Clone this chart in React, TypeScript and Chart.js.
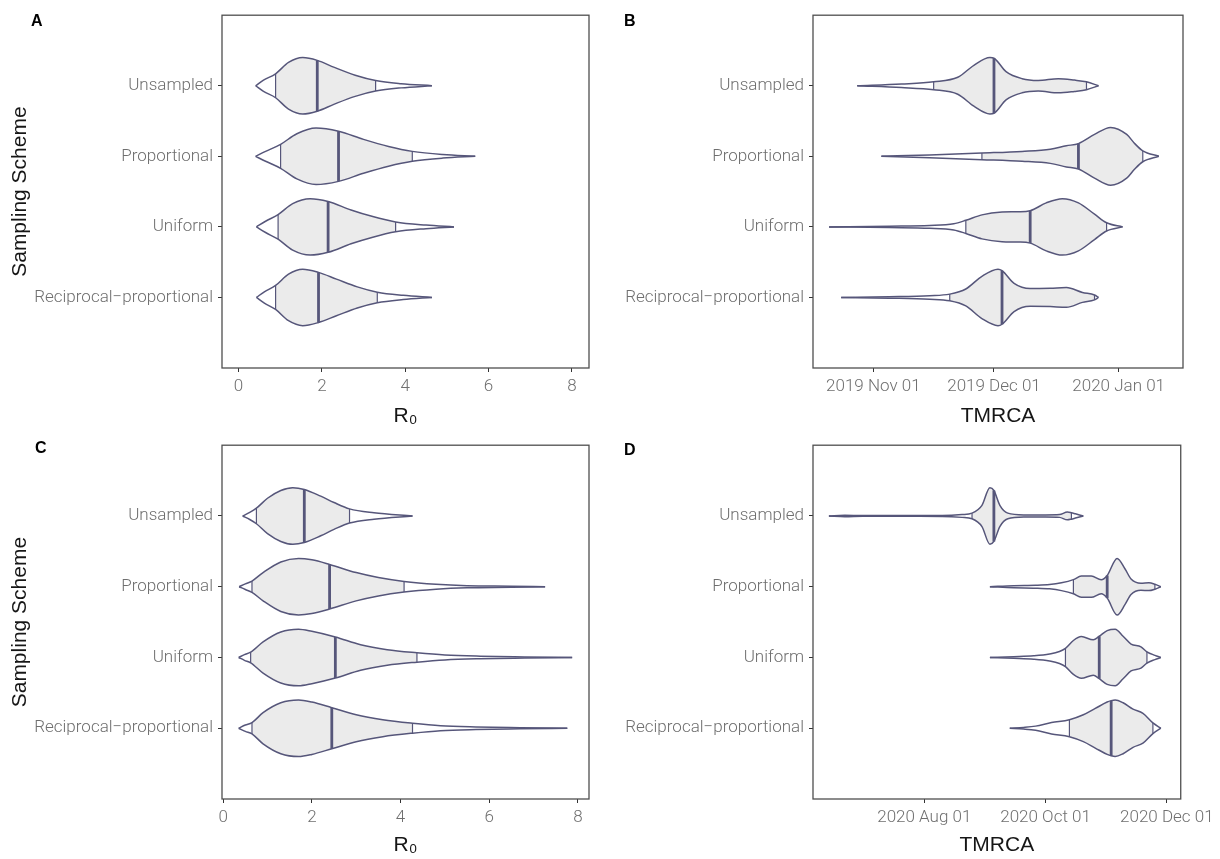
import { useEffect, useRef } from "react";
import { Chart, registerables } from "chart.js";

Chart.register(...registerables);

// Categories (top to bottom)
const schemes = ["Unsampled", "Proportional", "Uniform", "Reciprocal−proportional"];

type Pt = [number | string, number];

// ---------- Panel A: R0 ----------
const r0Ticks = [0, 2, 4, 6, 8];
const r0TickLabels = ["0", "2", "4", "6", "8"];
const aRange = [-0.396, 8.41];
const aUnsampled: Pt[] = [[0.41, 0], [0.6, 0.08], [0.89, 0.17], [1.2, 0.33], [1.54, 0.4], [1.89, 0.36], [2.3, 0.26], [2.8, 0.15], [3.29, 0.075], [3.9, 0.03], [4.64, 0]];
const aProportional: Pt[] = [[0.41, 0], [0.65, 0.07], [1.01, 0.17], [1.4, 0.32], [1.86, 0.4], [2.4, 0.355], [3.0, 0.24], [3.6, 0.14], [4.17, 0.07], [4.9, 0.025], [5.68, 0]];
const aUniform: Pt[] = [[0.43, 0], [0.65, 0.08], [0.95, 0.175], [1.3, 0.33], [1.72, 0.4], [2.15, 0.36], [2.7, 0.24], [3.2, 0.15], [3.77, 0.07], [4.5, 0.025], [5.17, 0]];
const aReciprocal: Pt[] = [[0.43, 0], [0.62, 0.08], [0.89, 0.17], [1.2, 0.33], [1.54, 0.4], [1.92, 0.355], [2.35, 0.26], [2.85, 0.15], [3.33, 0.075], [3.95, 0.03], [4.64, 0]];
const aQuantiles: (number | string)[][] = [[0.89, 1.89, 3.29], [1.01, 2.4, 4.17], [0.95, 2.15, 3.77], [0.89, 1.92, 3.33]];

// ---------- Panel B: TMRCA ----------
const bTickDates = ["2019-11-01", "2019-12-01", "2020-01-01"];
const bTickLabels = ["2019 Nov 01", "2019 Dec 01", "2020 Jan 01"];
const bRange = ["2019-10-17", "2020-01-17"];
const bUnsampled: Pt[] = [["2019-10-28", 0], ["2019-11-08", 0.025], ["2019-11-16", 0.056], ["2019-11-22", 0.12], ["2019-11-26", 0.29], ["2019-11-30", 0.4], ["2019-12-01", 0.39], ["2019-12-04", 0.2], ["2019-12-08", 0.1], ["2019-12-12", 0.075], ["2019-12-17", 0.1], ["2019-12-21", 0.08], ["2019-12-24", 0.056], ["2019-12-27", 0]];
const bProportional: Pt[] = [["2019-11-03", 0], ["2019-11-15", 0.02], ["2019-11-28", 0.047], ["2019-12-08", 0.07], ["2019-12-15", 0.1], ["2019-12-19", 0.15], ["2019-12-22", 0.18], ["2019-12-26", 0.31], ["2019-12-30", 0.41], ["2020-01-03", 0.31], ["2020-01-05", 0.18], ["2020-01-07", 0.077], ["2020-01-11", 0]];
const bUniform: Pt[] = [["2019-10-21", 0], ["2019-11-05", 0.01], ["2019-11-15", 0.02], ["2019-11-21", 0.045], ["2019-11-24", 0.093], ["2019-11-28", 0.17], ["2019-12-03", 0.21], ["2019-12-07", 0.215], ["2019-12-10", 0.23], ["2019-12-14", 0.34], ["2019-12-18", 0.4], ["2019-12-22", 0.34], ["2019-12-26", 0.18], ["2019-12-29", 0.058], ["2020-01-02", 0]];
const bReciprocal: Pt[] = [["2019-10-24", 0], ["2019-11-05", 0.01], ["2019-11-15", 0.025], ["2019-11-20", 0.047], ["2019-11-24", 0.12], ["2019-11-28", 0.3], ["2019-12-02", 0.4], ["2019-12-03", 0.38], ["2019-12-06", 0.2], ["2019-12-10", 0.125], ["2019-12-15", 0.13], ["2019-12-19", 0.14], ["2019-12-23", 0.07], ["2019-12-26", 0.035], ["2019-12-27", 0]];
const bQuantiles: (number | string)[][] = [
  ["2019-11-16", "2019-12-01", "2019-12-24"],
  ["2019-11-28", "2019-12-22", "2020-01-07"],
  ["2019-11-24", "2019-12-10", "2019-12-29"],
  ["2019-11-20", "2019-12-03", "2019-12-26"],
];

// ---------- Panel C: R0 ----------
const cRange = [-0.026, 8.25];
const cUnsampled: Pt[] = [[0.44, 0], [0.6, 0.05], [0.75, 0.11], [1.0, 0.25], [1.3, 0.36], [1.57, 0.4], [1.83, 0.375], [2.2, 0.28], [2.5, 0.19], [2.85, 0.1], [3.4, 0.045], [4.27, 0]];
const cProportional: Pt[] = [[0.36, 0], [0.5, 0.04], [0.65, 0.08], [0.9, 0.2], [1.3, 0.35], [1.7, 0.4], [2.0, 0.38], [2.4, 0.315], [3.0, 0.2], [3.5, 0.13], [4.08, 0.075], [4.8, 0.035], [5.5, 0.015], [6.5, 0.008], [7.26, 0]];
const cUniform: Pt[] = [[0.35, 0], [0.48, 0.04], [0.62, 0.075], [0.9, 0.22], [1.3, 0.36], [1.7, 0.4], [2.0, 0.37], [2.53, 0.29], [3.1, 0.18], [3.7, 0.11], [4.37, 0.066], [5.0, 0.035], [5.8, 0.018], [6.8, 0.008], [7.87, 0]];
const cReciprocal: Pt[] = [[0.35, 0], [0.5, 0.045], [0.65, 0.08], [0.9, 0.22], [1.3, 0.36], [1.7, 0.4], [2.0, 0.37], [2.45, 0.29], [3.0, 0.19], [3.6, 0.12], [4.27, 0.07], [4.9, 0.035], [5.7, 0.018], [6.7, 0.008], [7.76, 0]];
const cQuantiles: (number | string)[][] = [[0.75, 1.83, 2.85], [0.65, 2.4, 4.08], [0.62, 2.53, 4.37], [0.65, 2.45, 4.27]];

// ---------- Panel D: TMRCA ----------
const dTickDates = ["2020-08-01", "2020-10-01", "2020-12-01"];
const dTickLabels = ["2020 Aug 01", "2020 Oct 01", "2020 Dec 01"];
const dRange = ["2020-06-06", "2020-12-08"];
const dUnsampled: Pt[] = [["2020-06-14", 0], ["2020-06-22", 0.01], ["2020-07-01", 0.005], ["2020-07-20", 0.005], ["2020-08-10", 0.006], ["2020-08-20", 0.02], ["2020-08-25", 0.04], ["2020-08-30", 0.15], ["2020-09-03", 0.4], ["2020-09-05", 0.36], ["2020-09-08", 0.15], ["2020-09-12", 0.04], ["2020-09-20", 0.015], ["2020-10-01", 0.015], ["2020-10-08", 0.02], ["2020-10-12", 0.055], ["2020-10-14", 0.045], ["2020-10-16", 0.03], ["2020-10-20", 0]];
const dProportional: Pt[] = [["2020-09-03", 0], ["2020-09-15", 0.015], ["2020-09-26", 0.02], ["2020-10-03", 0.03], ["2020-10-09", 0.055], ["2020-10-15", 0.1], ["2020-10-19", 0.15], ["2020-10-24", 0.15], ["2020-10-29", 0.1], ["2020-11-01", 0.16], ["2020-11-06", 0.4], ["2020-11-10", 0.25], ["2020-11-13", 0.11], ["2020-11-18", 0.05], ["2020-11-22", 0.055], ["2020-11-25", 0.035], ["2020-11-28", 0]];
const dUniform: Pt[] = [["2020-09-03", 0], ["2020-09-15", 0.012], ["2020-09-25", 0.025], ["2020-10-03", 0.05], ["2020-10-08", 0.085], ["2020-10-11", 0.13], ["2020-10-15", 0.24], ["2020-10-19", 0.295], ["2020-10-25", 0.25], ["2020-10-28", 0.3], ["2020-11-01", 0.38], ["2020-11-05", 0.4], ["2020-11-09", 0.3], ["2020-11-13", 0.19], ["2020-11-18", 0.15], ["2020-11-21", 0.08], ["2020-11-25", 0.03], ["2020-11-28", 0]];
const dReciprocal: Pt[] = [["2020-09-13", 0], ["2020-09-20", 0.012], ["2020-09-26", 0.03], ["2020-10-04", 0.08], ["2020-10-13", 0.12], ["2020-10-20", 0.19], ["2020-10-26", 0.28], ["2020-11-01", 0.37], ["2020-11-03", 0.39], ["2020-11-05", 0.4], ["2020-11-09", 0.36], ["2020-11-14", 0.27], ["2020-11-19", 0.21], ["2020-11-24", 0.075], ["2020-11-28", 0]];
const dQuantiles: (number | string)[][] = [
  ["2020-08-25", "2020-09-05", "2020-10-14"],
  ["2020-10-15", "2020-11-01", "2020-11-25"],
  ["2020-10-11", "2020-10-28", "2020-11-21"],
  ["2020-10-13", "2020-11-03", "2020-11-24"],
];

// ---------- styling ----------
const FILL = "#ebebeb";
const EDGE = "#56567a";
const FRAME = "#4f4f4f";
const TICK_TEXT = "#6f6f6f";
const TITLE_TEXT = "#161616";
const TICK_FONT = { family: "Roboto, 'Liberation Sans', Arial, sans-serif", size: 17, weight: "300" as const };
const TITLE_FONT = { family: "'Liberation Sans', Arial, sans-serif", size: 21 };

const toDay = (v: number | string): number =>
  typeof v === "number" ? v : Date.UTC(+v.slice(0, 4), +v.slice(5, 7) - 1, +v.slice(8, 10)) / 86400000;

function violinDatasets(profile: Pt[], q: (number | string)[], row: number) {
  const pts = profile.map(([x, w]) => [toDay(x), w] as [number, number]);
  const [lo, med, hi] = q.map(toDay);
  const halfAt = (x: number) => {
    for (let i = 1; i < pts.length; i++) {
      const [x0, w0] = pts[i - 1];
      const [x1, w1] = pts[i];
      if (x >= x0 && x <= x1) return x1 === x0 ? w0 : w0 + ((w1 - w0) * (x - x0)) / (x1 - x0);
    }
    return 0;
  };
  const upper = (p: [number, number][]) => p.map(([x, w]) => ({ x, y: row - w }));
  const lower = (p: [number, number][]) => p.map(([x, w]) => ({ x, y: row + w }));
  const mid = pts.filter(([x]) => x >= lo && x <= hi);
  const curve = { pointRadius: 0, cubicInterpolationMode: "monotone" as const };
  return [
    { data: upper(mid), fill: "+1", backgroundColor: FILL, borderColor: "rgba(0,0,0,0)", borderWidth: 0, order: 3, ...curve },
    { data: lower(mid), fill: false, borderColor: "rgba(0,0,0,0)", borderWidth: 0, order: 3, ...curve },
    { data: upper(pts), fill: false, borderColor: EDGE, borderWidth: 1.5, order: 2, ...curve },
    { data: lower(pts), fill: false, borderColor: EDGE, borderWidth: 1.5, order: 2, ...curve },
    ...[lo, med, hi].map((x, i) => ({
      data: [{ x, y: row - halfAt(x) }, { x, y: row + halfAt(x) }],
      fill: false,
      borderColor: EDGE,
      borderWidth: i === 1 ? 2.8 : 1.2,
      tension: 0,
      pointRadius: 0,
      order: 1,
    })),
  ];
}

const framePlugin = {
  id: "frame",
  afterDatasetsDraw(chart: any) {
    const { ctx, chartArea: a } = chart;
    ctx.save();
    ctx.strokeStyle = FRAME;
    ctx.lineWidth = 1.3;
    ctx.strokeRect(a.left, a.top, a.right - a.left, a.bottom - a.top);
    ctx.restore();
  },
};

interface PanelSpec {
  letter: string;
  x: number;
  y: number;
  w: number;
  h: number;
  area: { left: number; top: number; right: number; bottom: number };
  violins: Pt[][];
  quantiles: (number | string)[][];
  range: (number | string)[];
  tickValues: (number | string)[];
  tickLabels: string[];
  xTitle: string;
  yTitle: boolean;
  letterPos: [number, number];
}

const panels: PanelSpec[] = [
  {
    letter: "A", x: 0, y: 0, w: 610, h: 430,
    area: { left: 222, top: 12, right: 589, bottom: 368 },
    violins: [aUnsampled, aProportional, aUniform, aReciprocal], quantiles: aQuantiles,
    range: aRange, tickValues: r0Ticks, tickLabels: r0TickLabels, xTitle: "R₀", yTitle: true,
    letterPos: [31, 13],
  },
  {
    letter: "B", x: 610, y: 0, w: 610, h: 430,
    area: { left: 203, top: 12, right: 573, bottom: 368 },
    violins: [bUnsampled, bProportional, bUniform, bReciprocal], quantiles: bQuantiles,
    range: bRange, tickValues: bTickDates, tickLabels: bTickLabels, xTitle: "TMRCA", yTitle: false,
    letterPos: [624, 13],
  },
  {
    letter: "C", x: 0, y: 430, w: 610, h: 429,
    area: { left: 222, top: 13, right: 589, bottom: 369 },
    violins: [cUnsampled, cProportional, cUniform, cReciprocal], quantiles: cQuantiles,
    range: cRange, tickValues: r0Ticks, tickLabels: r0TickLabels, xTitle: "R₀", yTitle: true,
    letterPos: [35, 440],
  },
  {
    letter: "D", x: 610, y: 430, w: 610, h: 429,
    area: { left: 203, top: 13, right: 573, bottom: 369 },
    violins: [dUnsampled, dProportional, dUniform, dReciprocal], quantiles: dQuantiles,
    range: dRange, tickValues: dTickDates, tickLabels: dTickLabels, xTitle: "TMRCA", yTitle: false,
    letterPos: [624, 442],
  },
];

function ViolinPanel({ spec }: { spec: PanelSpec }) {
  const ref = useRef<HTMLCanvasElement>(null);
  useEffect(() => {
    if (!ref.current) return;
    const datasets = spec.violins.flatMap((v, i) => violinDatasets(v, spec.quantiles[i], i + 1));
    const tickVals = spec.tickValues.map(toDay);
    const chart = new Chart(ref.current, {
      type: "line",
      data: { datasets: datasets as any },
      plugins: [framePlugin],
      options: {
        responsive: false,
        devicePixelRatio: 1,
        animation: false,
        events: [],
        layout: {
          padding: { left: 0, top: spec.area.top, right: spec.w - spec.area.right, bottom: 0 },
        },
        plugins: { legend: { display: false }, tooltip: { enabled: false } },
        scales: {
          x: {
            type: "linear",
            min: toDay(spec.range[0]),
            max: toDay(spec.range[1]),
            afterBuildTicks: (s: any) => {
              s.ticks = tickVals.map((value) => ({ value }));
            },
            afterFit: (s: any) => {
              s.height = spec.h - spec.area.bottom;
            },
            grid: { display: true, drawOnChartArea: false, drawTicks: true, tickLength: 4, color: "#333", lineWidth: 1 },
            border: { display: false },
            ticks: {
              autoSkip: false,
              maxRotation: 0,
              padding: 5,
              color: TICK_TEXT,
              font: TICK_FONT,
              callback: (_v: any, i: number) => spec.tickLabels[i],
            },
            title: { display: true, text: spec.xTitle, color: TITLE_TEXT, font: TITLE_FONT, padding: { top: 0, bottom: 1 } },
          },
          y: {
            type: "linear",
            reverse: true,
            min: 0,
            max: 5,
            afterBuildTicks: (s: any) => {
              s.ticks = schemes.map((_, i) => ({ value: i + 1 }));
            },
            afterFit: (s: any) => {
              s.width = spec.area.left;
            },
            grid: { display: true, drawOnChartArea: false, drawTicks: true, tickLength: 4, color: "#333", lineWidth: 1 },
            border: { display: false },
            ticks: {
              autoSkip: false,
              padding: 5,
              color: TICK_TEXT,
              font: TICK_FONT,
              callback: (_v: any, i: number) => schemes[i],
            },
            title: {
              display: spec.yTitle,
              text: "Sampling Scheme",
              color: TITLE_TEXT,
              font: TITLE_FONT,
              padding: { top: 8, bottom: 0 },
            },
          },
        },
      } as any,
    });
    return () => chart.destroy();
  }, [spec]);
  return (
    <canvas
      ref={ref}
      width={spec.w}
      height={spec.h}
      style={{ position: "absolute", left: spec.x, top: spec.y, width: spec.w, height: spec.h }}
    />
  );
}

export default function App() {
  return (
    <div style={{ position: "absolute", left: 0, top: 0, width: 1220, height: 859, background: "#fff", overflow: "hidden" }}>
      {panels.map((p) => (
        <ViolinPanel key={p.letter} spec={p} />
      ))}
      {panels.map((p) => (
        <div
          key={"lbl" + p.letter}
          style={{
            position: "absolute",
            left: p.letterPos[0],
            top: p.letterPos[1],
            font: "bold 16px 'Liberation Sans', Arial, sans-serif",
            lineHeight: "16px",
            color: "#000",
          }}
        >
          {p.letter}
        </div>
      ))}
    </div>
  );
}
